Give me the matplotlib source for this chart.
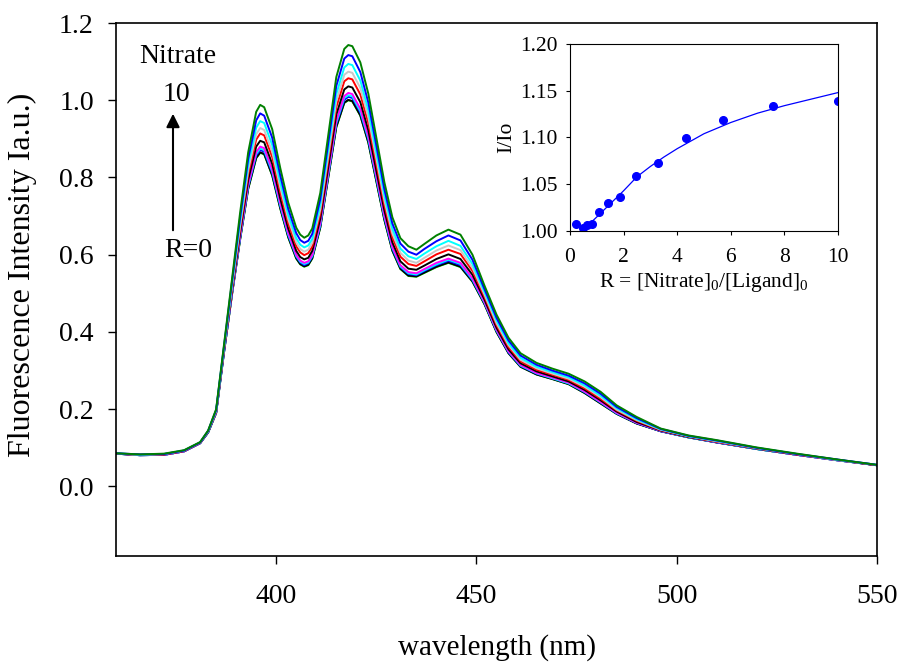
import numpy as np
import matplotlib
matplotlib.use('Agg')
import matplotlib.pyplot as plt

plt.rcParams['font.family'] = 'serif'
plt.rcParams['font.serif'] = ['Liberation Serif', 'DejaVu Serif']
plt.rcParams['mathtext.fontset'] = 'custom'
plt.rcParams['mathtext.rm'] = 'Liberation Serif'
plt.rcParams['mathtext.it'] = 'Liberation Serif:italic'

# wavelength grid (nm) shared by all spectra
wavelength = [360, 366, 372, 377, 381, 383, 385, 387, 389, 391, 393, 395, 396, 397, 399,
              401, 403, 405, 406, 407, 408, 409, 411, 413, 415, 417, 418, 419, 421, 423,
              425, 427, 429, 431, 433, 435, 437, 440, 443, 446, 449, 452, 455, 458, 461,
              465, 469, 473, 477, 481, 485, 490, 496, 503, 510, 520, 530, 540, 550]

# spectra, from R=0 (bottom) to R=10 (top)
spec_r0 = [0.085, 0.081, 0.082, 0.091, 0.112, 0.140, 0.190, 0.350, 0.500, 0.640, 0.770, 0.850, 0.864, 0.860, 0.805,
           0.720, 0.645, 0.590, 0.575, 0.569, 0.573, 0.590, 0.670, 0.800, 0.930, 0.993, 1.000, 0.997, 0.960, 0.890,
           0.790, 0.690, 0.610, 0.563, 0.545, 0.543, 0.553, 0.568, 0.579, 0.568, 0.530, 0.472, 0.400, 0.345, 0.310,
           0.290, 0.278, 0.265, 0.242, 0.215, 0.188, 0.163, 0.143, 0.127, 0.114, 0.097, 0.082, 0.068, 0.055]
spec_2 = [0.085, 0.081, 0.082, 0.091, 0.112, 0.140, 0.190, 0.350, 0.500, 0.641, 0.771, 0.851, 0.865, 0.861, 0.806,
          0.721, 0.646, 0.591, 0.576, 0.570, 0.574, 0.591, 0.671, 0.801, 0.931, 0.994, 1.001, 0.998, 0.961, 0.891,
          0.791, 0.691, 0.611, 0.564, 0.546, 0.544, 0.554, 0.569, 0.580, 0.569, 0.531, 0.472, 0.400, 0.345, 0.310,
          0.290, 0.278, 0.265, 0.242, 0.215, 0.188, 0.163, 0.143, 0.127, 0.114, 0.097, 0.082, 0.068, 0.055]
spec_3 = [0.085, 0.081, 0.082, 0.091, 0.112, 0.140, 0.191, 0.351, 0.502, 0.644, 0.776, 0.857, 0.871, 0.867, 0.812,
          0.726, 0.650, 0.595, 0.580, 0.573, 0.578, 0.595, 0.675, 0.807, 0.938, 1.001, 1.009, 1.006, 0.968, 0.898,
          0.797, 0.696, 0.615, 0.568, 0.550, 0.547, 0.558, 0.573, 0.584, 0.573, 0.534, 0.475, 0.403, 0.347, 0.312,
          0.292, 0.280, 0.267, 0.244, 0.217, 0.189, 0.164, 0.143, 0.127, 0.114, 0.097, 0.082, 0.068, 0.055]
spec_4 = [0.085, 0.081, 0.082, 0.091, 0.112, 0.140, 0.191, 0.352, 0.504, 0.646, 0.779, 0.861, 0.875, 0.871, 0.816,
          0.729, 0.653, 0.597, 0.582, 0.576, 0.580, 0.597, 0.678, 0.810, 0.942, 1.006, 1.013, 1.010, 0.972, 0.901,
          0.800, 0.699, 0.618, 0.570, 0.552, 0.549, 0.560, 0.575, 0.587, 0.576, 0.536, 0.476, 0.404, 0.349, 0.313,
          0.293, 0.280, 0.267, 0.245, 0.218, 0.190, 0.165, 0.144, 0.127, 0.115, 0.097, 0.082, 0.068, 0.055]
spec_5 = [0.085, 0.081, 0.082, 0.091, 0.112, 0.141, 0.191, 0.353, 0.505, 0.649, 0.782, 0.866, 0.880, 0.876, 0.821,
          0.734, 0.657, 0.600, 0.585, 0.579, 0.583, 0.600, 0.682, 0.814, 0.947, 1.011, 1.019, 1.016, 0.978, 0.907,
          0.805, 0.703, 0.621, 0.573, 0.555, 0.552, 0.563, 0.579, 0.590, 0.579, 0.539, 0.478, 0.406, 0.350, 0.315,
          0.294, 0.282, 0.269, 0.246, 0.219, 0.191, 0.165, 0.144, 0.128, 0.115, 0.098, 0.082, 0.068, 0.055]
spec_6 = [0.085, 0.082, 0.083, 0.092, 0.113, 0.141, 0.193, 0.355, 0.510, 0.658, 0.794, 0.880, 0.895, 0.891, 0.835,
          0.746, 0.668, 0.610, 0.594, 0.588, 0.592, 0.610, 0.693, 0.828, 0.963, 1.028, 1.036, 1.033, 0.995, 0.922,
          0.818, 0.715, 0.632, 0.583, 0.564, 0.561, 0.572, 0.589, 0.601, 0.589, 0.548, 0.484, 0.411, 0.355, 0.319,
          0.298, 0.285, 0.272, 0.250, 0.223, 0.194, 0.167, 0.145, 0.128, 0.116, 0.098, 0.083, 0.069, 0.055]
spec_7 = [0.085, 0.082, 0.083, 0.092, 0.113, 0.142, 0.194, 0.358, 0.516, 0.668, 0.808, 0.898, 0.914, 0.909, 0.853,
          0.762, 0.681, 0.622, 0.606, 0.599, 0.604, 0.621, 0.706, 0.844, 0.982, 1.049, 1.057, 1.054, 1.015, 0.941,
          0.835, 0.729, 0.645, 0.595, 0.576, 0.571, 0.583, 0.601, 0.613, 0.602, 0.558, 0.491, 0.418, 0.361, 0.324,
          0.302, 0.289, 0.276, 0.254, 0.227, 0.197, 0.170, 0.146, 0.129, 0.116, 0.099, 0.083, 0.069, 0.055]
spec_8 = [0.086, 0.082, 0.084, 0.093, 0.114, 0.143, 0.195, 0.360, 0.521, 0.676, 0.819, 0.912, 0.928, 0.923, 0.867,
          0.775, 0.692, 0.632, 0.615, 0.608, 0.613, 0.631, 0.717, 0.857, 0.998, 1.066, 1.074, 1.071, 1.032, 0.956,
          0.849, 0.741, 0.655, 0.605, 0.585, 0.579, 0.592, 0.611, 0.624, 0.612, 0.566, 0.497, 0.423, 0.366, 0.328,
          0.306, 0.292, 0.279, 0.258, 0.231, 0.199, 0.172, 0.147, 0.130, 0.117, 0.099, 0.084, 0.069, 0.056]
spec_9 = [0.086, 0.082, 0.084, 0.093, 0.114, 0.143, 0.197, 0.363, 0.526, 0.686, 0.833, 0.929, 0.946, 0.941, 0.884,
          0.789, 0.704, 0.643, 0.626, 0.619, 0.624, 0.641, 0.729, 0.873, 1.016, 1.085, 1.094, 1.091, 1.051, 0.974,
          0.865, 0.755, 0.667, 0.616, 0.596, 0.589, 0.603, 0.622, 0.636, 0.623, 0.576, 0.504, 0.430, 0.371, 0.333,
          0.310, 0.296, 0.283, 0.262, 0.235, 0.203, 0.174, 0.148, 0.130, 0.118, 0.100, 0.084, 0.069, 0.056]
spec_10 = [0.086, 0.083, 0.084, 0.093, 0.114, 0.144, 0.198, 0.366, 0.533, 0.697, 0.848, 0.948, 0.966, 0.960, 0.903,
           0.806, 0.719, 0.656, 0.638, 0.631, 0.636, 0.654, 0.744, 0.890, 1.037, 1.108, 1.117, 1.114, 1.073, 0.994,
           0.883, 0.770, 0.681, 0.629, 0.608, 0.600, 0.615, 0.635, 0.650, 0.637, 0.587, 0.511, 0.437, 0.378, 0.339,
           0.315, 0.300, 0.287, 0.267, 0.240, 0.206, 0.177, 0.149, 0.131, 0.119, 0.100, 0.084, 0.070, 0.056]
spec_r10 = [0.086, 0.083, 0.085, 0.094, 0.115, 0.145, 0.200, 0.370, 0.540, 0.710, 0.865, 0.970, 0.988, 0.982, 0.925,
            0.825, 0.735, 0.670, 0.652, 0.644, 0.650, 0.668, 0.760, 0.910, 1.060, 1.133, 1.143, 1.140, 1.098, 1.017,
            0.903, 0.788, 0.697, 0.643, 0.622, 0.613, 0.628, 0.650, 0.665, 0.652, 0.600, 0.520, 0.445, 0.385, 0.345,
            0.320, 0.305, 0.292, 0.272, 0.245, 0.210, 0.180, 0.150, 0.132, 0.120, 0.101, 0.085, 0.070, 0.056]

spectra = [spec_r0, spec_2, spec_3, spec_4, spec_5, spec_6, spec_7, spec_8, spec_9, spec_10, spec_r10]
colors = ['#00cc00', 'black', 'blue', 'cyan', 'magenta', 'black', 'red', '#c8c8c8', 'cyan', 'blue', '#008000']

# inset: relative intensity vs R
ratio_R = [0.21, 0.47, 0.62, 0.82, 1.08, 1.43, 1.88, 2.48, 3.28, 4.32, 5.72, 7.56, 10.0]
ratio_I = [1.007, 1.003, 1.006, 1.0075, 1.020, 1.030, 1.036, 1.059, 1.073, 1.099, 1.119, 1.134, 1.139]
fit_R = [0.6, 1.0, 1.5, 2.0, 2.5, 3.0, 3.5, 4.0, 5.0, 6.0, 7.0, 8.0, 9.0, 10.0]
fit_I = [1.004, 1.015, 1.029, 1.043, 1.058, 1.069, 1.079, 1.088, 1.104, 1.116, 1.126, 1.134, 1.141, 1.148]

fig = plt.figure(figsize=(9.02, 6.63), dpi=100)
ax = fig.add_axes([0.1286, 0.1614, 0.8437, 0.8039])

for spec, c in zip(spectra, colors):
    ax.plot(wavelength, spec, color=c, linewidth=1.4, solid_joinstyle='round')

ax.set_xlim(360, 550)
ax.set_ylim(-0.18, 1.2)
ax.set_xticks([400, 450, 500, 550])
ax.set_yticks([0.0, 0.2, 0.4, 0.6, 0.8, 1.0, 1.2])
ax.set_yticklabels(['0.0', '0.2', '0.4', '0.6', '0.8', '1.0', '1.2'])
ax.tick_params(direction='out', length=6, width=1, labelsize=20, top=False, right=False)
ax.tick_params(axis='x', pad=14)
ax.tick_params(axis='y', pad=10)
for s in ax.spines.values():
    s.set_linewidth(1.2)
ax.set_xlabel('wavelength (nm)', fontsize=21, labelpad=18)
fig.text(22 / 902, 1 - 275 / 663, 'Fluorescence Intensity Ia.u.)', fontsize=23,
         rotation=90, ha='center', va='center')

# annotation arrow
ax.annotate('', xy=(0.0749, 0.835), xytext=(0.0749, 0.606), xycoords='axes fraction',
            arrowprops=dict(arrowstyle='-|>', color='black', lw=1.5, mutation_scale=20))
ax.text(0.0815, 0.938, 'Nitrate', transform=ax.transAxes, fontsize=20, ha='center', va='center')
ax.text(0.080, 0.865, '10', transform=ax.transAxes, fontsize=20, ha='center', va='center')
ax.text(0.0946, 0.574, 'R=0', transform=ax.transAxes, fontsize=20, ha='center', va='center')

# inset
axi = fig.add_axes([0.6319, 0.6516, 0.2971, 0.2821])
axi.plot(fit_R, fit_I, color='blue', linewidth=0.9)
axi.plot(ratio_R, ratio_I, 'o', color='blue', markersize=5.5)
axi.set_xlim(0, 10)
axi.set_ylim(1.0, 1.2)
axi.set_xticks([0, 2, 4, 6, 8, 10])
axi.set_yticks([1.00, 1.05, 1.10, 1.15, 1.20])
axi.set_yticklabels(['1.00', '1.05', '1.10', '1.15', '1.20'])
axi.tick_params(direction='out', length=3, width=0.8, labelsize=15.5, top=False, right=False)
axi.tick_params(axis='x', pad=9)
axi.tick_params(axis='y', pad=6)
for s in axi.spines.values():
    s.set_linewidth(0.8)
axi.set_xlabel('R = [Nitrate]$_0$/[Ligand]$_0$', fontsize=15.5, labelpad=3)
axi.set_ylabel('I/Io', fontsize=15.5, labelpad=3)

fig.savefig('out.png', dpi=100)
